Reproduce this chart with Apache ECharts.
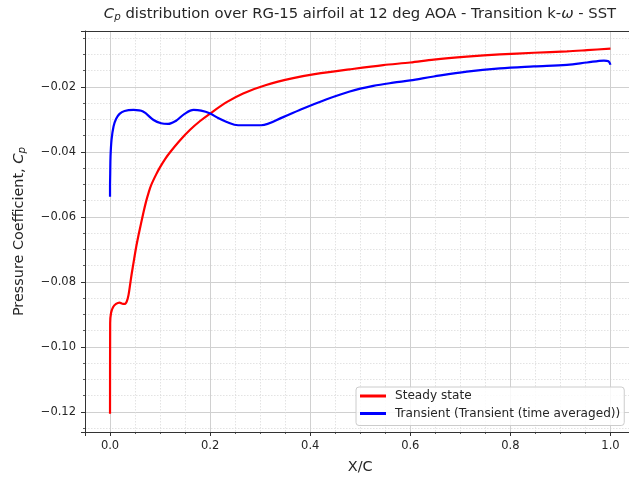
<!DOCTYPE html>
<html>
<head>
<meta charset="utf-8">
<script src="https://cdn.jsdelivr.net/npm/echarts@6/dist/echarts.min.js"></script>
<style>
  html, body { margin: 0; padding: 0; background: #ffffff; overflow: hidden; }
  /* plot frame runs slightly past the right edge of the window */
  #chart { width: 660px; height: 482px; }
</style>
</head>
<body>
<div id="chart"></div>
<script>
// Chordwise position X/C and pressure coefficient, steady RANS solution
const steadyX = [0, 0.0003, 0.002, 0.006, 0.012, 0.019, 0.026, 0.030, 0.034, 0.037, 0.040, 0.043,
  0.046, 0.052, 0.057, 0.062, 0.067, 0.072, 0.077, 0.082, 0.092, 0.100, 0.110, 0.120, 0.140, 0.160,
  0.180, 0.200, 0.233, 0.266, 0.312, 0.366, 0.412, 0.479, 0.546, 0.600, 0.647, 0.713, 0.779, 0.847,
  0.913, 0.953, 1.000];
const steadyCp = [-0.1206, -0.0927, -0.0896, -0.0878, -0.0868, -0.0864, -0.0868, -0.0868, -0.0858, -0.0840, -0.0810, -0.0778,
  -0.0750, -0.0695, -0.0656, -0.0620, -0.0585, -0.0553, -0.0526, -0.0503, -0.0470, -0.0447, -0.0422, -0.0401, -0.0364, -0.0332,
  -0.0305, -0.0282, -0.0247, -0.0220, -0.0194, -0.0173, -0.0160, -0.0146, -0.0133, -0.0125, -0.0116, -0.0107, -0.0100, -0.0095,
  -0.0091, -0.0087, -0.0082];

// Time-averaged transient solution
const transientX = [0, 0, 0.0004, 0.001, 0.003, 0.007, 0.012, 0.019, 0.029, 0.047, 0.066, 0.087,
  0.102, 0.116, 0.132, 0.149, 0.167, 0.182, 0.199, 0.216, 0.232, 0.256, 0.302, 0.346, 0.379,
  0.433, 0.479, 0.526, 0.566, 0.600, 0.647, 0.713, 0.779, 0.847, 0.913, 0.953, 0.987, 0.996, 1.000];
const transientCp = [-0.0538, -0.0507, -0.0466, -0.0414, -0.0363, -0.0322, -0.0299, -0.0283, -0.0274, -0.0271, -0.0276, -0.0302,
  -0.0312, -0.0314, -0.0304, -0.0283, -0.0271, -0.0273, -0.0281, -0.0296, -0.0307, -0.0318, -0.0318, -0.0293, -0.0271,
  -0.0238, -0.0214, -0.0197, -0.0187, -0.0180, -0.0168, -0.0153, -0.0143, -0.0137, -0.0132, -0.0125, -0.0119, -0.0121, -0.0132];

const seriesNames = ['Steady state', 'Transient (Transient (time averaged))'];

// Axis limits (data range plus 5% padding) and label steps
const xLimits = [-0.05, 1.05];
const yLimits = [-0.1262, -0.0028];
const xLabelStep = 0.2;
const yLabelStep = 0.02;

const FONT = 'DejaVu Sans';
const TEXT = '#262626';

function pairs(xs, ys) { return xs.map((x, i) => [x, ys[i]]); }
function onStep(v, step) { const k = v / step; return Math.abs(k - Math.round(k)) < 1e-6; }
function fmt(v, digits) { return v.toFixed(digits).replace('-', '\u2212'); }

const chart = echarts.init(document.getElementById('chart'), null, { renderer: 'canvas' });

const axisCommon = {
  type: 'value',
  axisLine: { show: true, onZero: false, lineStyle: { color: '#333333', width: 1 } },
  axisTick: { show: true, length: 4, lineStyle: { color: '#333333', width: 1 } },
  minorTick: { show: true, splitNumber: 4, length: 2, lineStyle: { color: '#333333', width: 0.8 } },
  splitLine: { show: true, lineStyle: { color: '#d0d0d0', width: 1, type: 'solid' } },
  minorSplitLine: { show: true, lineStyle: { color: '#dcdcdc', width: 0.8, type: [1.5, 1.5] } },
  axisLabel: { color: TEXT, fontFamily: FONT, fontSize: 11.5, showMinLabel: false, showMaxLabel: false }
};

const subRich = {
  c: { fontFamily: FONT, fontSize: 14.8, fontStyle: 'italic', color: TEXT },
  p: { fontFamily: FONT, fontSize: 10.3, fontStyle: 'italic', color: TEXT, verticalAlign: 'bottom', lineHeight: 6 },
  w: { fontFamily: FONT, fontSize: 14.8, fontStyle: 'italic', color: TEXT }
};

chart.setOption({
  animation: false,
  backgroundColor: '#ffffff',
  title: {
    text: '{c|C}{p|p} distribution over RG-15 airfoil at 12 deg AOA - Transition k-{w|\u03c9} - SST',
    left: 360,
    top: 7,
    padding: 0,
    textAlign: 'center',
    textStyle: { color: TEXT, fontFamily: FONT, fontSize: 14.8, fontWeight: 'normal', rich: subRich }
  },
  grid: {
    left: 85, top: 31, width: 550.5, height: 401,
    show: false, containLabel: false
  },
  legend: {
    orient: 'vertical',
    left: 356, top: 387,
    padding: [3, 4, 6, 4],
    itemGap: 5.5,
    itemWidth: 26, itemHeight: 3,
    icon: 'rect',
    backgroundColor: 'rgba(255,255,255,0.85)',
    borderColor: '#cccccc', borderWidth: 1, borderRadius: 3,
    textStyle: { color: TEXT, fontFamily: FONT, fontSize: 12.1, padding: [0, 0, 0, 4] },
    data: seriesNames
  },
  xAxis: [
    Object.assign({}, axisCommon, {
      min: xLimits[0], max: xLimits[1], splitNumber: 5,
      name: 'X/C', nameLocation: 'middle', nameGap: 28,
      nameTextStyle: { color: TEXT, fontFamily: FONT, fontSize: 14.4 },
      axisLabel: Object.assign({}, axisCommon.axisLabel, {
        margin: 8,
        formatter: v => onStep(v, xLabelStep) ? fmt(v, 1) : ''
      })
    }),
    {
      // top frame line
      type: 'value', position: 'top',
      min: xLimits[0], max: xLimits[1],
      axisLine: { show: true, onZero: false, lineStyle: { color: '#333333', width: 1 } },
      axisTick: { show: false }, axisLabel: { show: false },
      splitLine: { show: false }, minorTick: { show: false }, minorSplitLine: { show: false }
    }
  ],
  yAxis: Object.assign({}, axisCommon, {
    min: yLimits[0], max: yLimits[1], splitNumber: 6,
    name: 'Pressure Coefficient, {c|C}{p|p}', nameLocation: 'middle', nameGap: 58,
    nameTextStyle: { color: TEXT, fontFamily: FONT, fontSize: 14.4, rich: subRich },
    axisLabel: Object.assign({}, axisCommon.axisLabel, {
      margin: 9,
      formatter: v => onStep(v, yLabelStep) ? fmt(v, 2) : ''
    })
  }),
  series: [
    {
      name: seriesNames[0], type: 'line', data: pairs(steadyX, steadyCp),
      showSymbol: false, smooth: 0.3, clip: true,
      lineStyle: { color: '#ff0000', width: 2.2 }, itemStyle: { color: '#ff0000' }, z: 3
    },
    {
      name: seriesNames[1], type: 'line', data: pairs(transientX, transientCp),
      showSymbol: false, smooth: 0.35, clip: true,
      lineStyle: { color: '#0000ff', width: 2.2 }, itemStyle: { color: '#0000ff' }, z: 4
    }
  ]
});
</script>
</body>
</html>
